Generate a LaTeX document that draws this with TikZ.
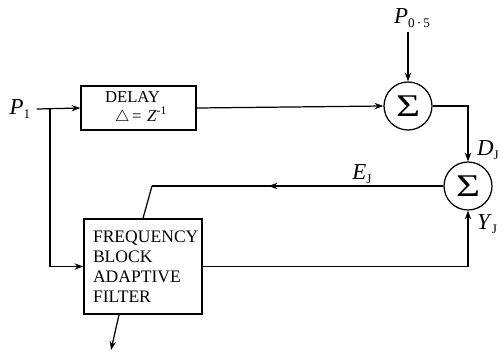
\documentclass[tikz,border=0pt]{standalone}
\usepackage{fontspec}
\setmainfont{Liberation Serif}
\usetikzlibrary{arrows.meta,decorations.markings}

% italic letter with a small lowered index
\newcommand{\signame}[2]{\textit{#1}\raisebox{-0.45ex}{\fontsize{7.5}{7.5}\selectfont #2}}

\begin{document}
\begin{tikzpicture}[x=0.02cm, y=-0.02cm, line width=0.7pt,
        >={Stealth[length=5pt, width=3.6pt]},
        block/.style={draw, line width=0.8pt, inner ysep=0pt, align=left},
        summer/.style={draw, circle, minimum size=0.96cm, inner sep=0pt,
                font=\fontsize{18}{18}\selectfont},
        sigtext/.style={font=\fontsize{13}{13}\selectfont},
        midarrow/.style={postaction={decorate}, decoration={markings,
                mark=at position #1 with {\arrow{>}}}}]
    \useasboundingbox (0,0) rectangle (503,352);

    % Blocks
    \node[block, minimum width=2.3cm, minimum height=0.88cm, text width=1.34cm,
        inner xsep=0.48cm, font=\fontsize{9.5}{11}\selectfont] (delay) at (138.5,108)
        {DELAY\\\hspace*{0.2cm}$\triangle$\,= \textit{Z}\textsuperscript{-1}};
    \node[block, minimum width=2.36cm, minimum height=1.9cm, text width=2cm,
        inner xsep=0.18cm, font=\fontsize{10}{11.3}\selectfont] (fbaf) at (143,266.5)
        {FREQUENCY\\BLOCK\\ADAPTIVE\\FILTER};

    % Summing junctions
    \node[summer] (sum1) at (408,106) {\scalebox{1.3}[1]{Σ}};
    \node[summer] (sum2) at (468,186) {\scalebox{1.3}[1]{Σ}};

    % Signal names
    \node[sigtext] (p1) at (20,109) {\signame{P}{1}};
    \node[sigtext] (p05) at (412,18) {\signame{P}{0\,·\,5}};
    \node[sigtext] (dj) at (488,150) {\signame{D}{J}};
    \node[sigtext] (ej) at (362,174) {\signame{E}{J}};
    \node[sigtext] (yj) at (487,224) {\signame{Y}{J}};

    \coordinate (split) at (50,108);
    \coordinate (pin) at (408,32);
    \coordinate (kink) at (152,186);
    \coordinate (out) at (111,350);

    % Connections
    \draw[->] (p1.east) -- (delay.west);
    \draw[->] (split) |- (fbaf.west);
    \draw[->] (delay.east) -- (sum1.west);
    \draw[->] (pin) -- (sum1.north);
    \draw[->] (sum1.east) -| (sum2.north);
    \draw[midarrow=0.6] (sum2.west) -- (kink);
    \draw (kink) -- (fbaf.north);
    \draw[->] (fbaf.east) -| (sum2.south);
    \draw[->] ([xshift=-0.48cm]fbaf.south) -- (out);

\end{tikzpicture}
\end{document}
